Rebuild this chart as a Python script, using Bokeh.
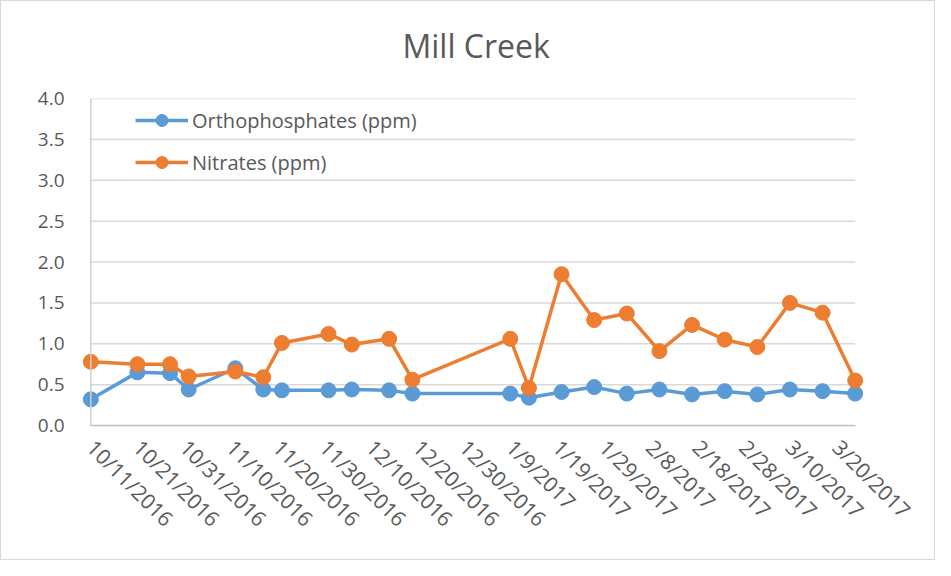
import math
from datetime import datetime, timedelta
from bokeh.plotting import figure
from bokeh.models import (FixedTicker, CustomJSTickFormatter, PrintfTickFormatter,
                          Legend, LegendItem, Range1d, Span, Title)
from bokeh.embed import file_html
from bokeh.resources import INLINE

title = "Mill Creek"
dates = ["2016-10-11", "2016-10-21", "2016-10-28", "2016-11-01", "2016-11-11",
         "2016-11-17", "2016-11-21", "2016-12-01", "2016-12-06", "2016-12-14",
         "2016-12-19", "2017-01-09", "2017-01-13", "2017-01-20", "2017-01-27",
         "2017-02-03", "2017-02-10", "2017-02-17", "2017-02-24", "2017-03-03",
         "2017-03-10", "2017-03-17", "2017-03-24"]
orthophosphates = [0.32, 0.65, 0.64, 0.44, 0.70, 0.44, 0.43, 0.43, 0.44, 0.43,
                   0.39, 0.39, 0.34, 0.41, 0.47, 0.39, 0.44, 0.38, 0.42, 0.38,
                   0.44, 0.42, 0.39]
nitrates = [0.78, 0.75, 0.75, 0.60, 0.66, 0.59, 1.01, 1.12, 0.99, 1.06,
            0.56, 1.06, 0.46, 1.85, 1.29, 1.37, 0.91, 1.23, 1.05, 0.96,
            1.50, 1.38, 0.55]
x_tick_labels = ["10/11/2016", "10/21/2016", "10/31/2016", "11/10/2016", "11/20/2016",
                 "11/30/2016", "12/10/2016", "12/20/2016", "12/30/2016", "1/9/2017",
                 "1/19/2017", "1/29/2017", "2/8/2017", "2/18/2017", "2/28/2017",
                 "3/10/2017", "3/20/2017"]
y_ticks = [0.0, 0.5, 1.0, 1.5, 2.0, 2.5, 3.0, 3.5, 4.0]
series_names = ["Orthophosphates (ppm)", "Nitrates (ppm)"]

BLUE = "#5b9bd5"
ORANGE = "#ed7d31"
TEXT = "#595959"
GRID = "#d9d9d9"
FONT = "Open Sans"

x = [datetime.strptime(d, "%Y-%m-%d") for d in dates]
xt = [datetime.strptime(t, "%m/%d/%Y") for t in x_tick_labels]
epoch = datetime(1970, 1, 1)
tick_ms = [(t - epoch).total_seconds() * 1000.0 for t in xt]
x_start, x_end = x[0], x[-1]
pad = timedelta(days=2)

p = figure(width=935, height=560, output_backend="svg", toolbar_location=None,
           x_axis_type="datetime",
           x_range=Range1d(x_start - pad, x_end + pad), y_range=Range1d(0, 4),
           min_border_left=80, min_border_right=72, min_border_top=97,
           min_border_bottom=136)
p.styles = {"border": "1px solid #d9d9d9"}
p.outline_line_color = None
p.title.text = ""
p.title.standoff = 0

# spacer panel next to the plot area, then the chart title above it
p.add_layout(Title(text=" ", text_font_size="10px", standoff=19), "above")
p.add_layout(Title(text=title, align="left", offset=321, standoff=0,
                   text_font=FONT, text_font_size="32px", text_font_style="normal",
                   text_color=TEXT), "above")

# horizontal grid lines limited to the date span of the axis
grid_y = [v for v in y_ticks if v > 0]
p.segment(x0=[x_start] * len(grid_y), x1=[x_end] * len(grid_y), y0=grid_y, y1=grid_y,
          line_color=GRID, line_width=1.5)

r1 = p.line(x, orthophosphates, line_color=BLUE, line_width=3.5)
s1 = p.scatter(x, orthophosphates, size=15, fill_color=BLUE, line_color=BLUE)
r2 = p.line(x, nitrates, line_color=ORANGE, line_width=3.5)
s2 = p.scatter(x, nitrates, size=15, fill_color=ORANGE, line_color=ORANGE)

p.yaxis.ticker = FixedTicker(ticks=y_ticks)
p.yaxis.formatter = PrintfTickFormatter(format="%.1f")
p.yaxis.major_tick_line_color = None
p.yaxis.minor_tick_line_color = None
p.yaxis.major_label_standoff = 11
p.yaxis.axis_line_color = None
p.yaxis.major_label_text_font = FONT
p.yaxis.major_label_text_font_size = "19px"
p.yaxis.major_label_text_color = TEXT
p.add_layout(Span(location=(x_start - epoch).total_seconds() * 1000.0,
                  dimension="height", line_color="#d0d0d0", line_width=1.5))

p.xaxis.ticker = FixedTicker(ticks=tick_ms)
p.xaxis.bounds = (x_start, x_end)
p.xaxis.formatter = CustomJSTickFormatter(code="""
const d = new Date(tick);
return (d.getUTCMonth() + 1) + '/' + d.getUTCDate() + '/' + d.getUTCFullYear();
""")
p.xaxis.major_label_orientation = -math.pi / 4
p.xaxis.major_tick_line_color = None
p.xaxis.minor_tick_line_color = None
p.xaxis.major_label_standoff = 12
p.xaxis.axis_line_color = "#bfbfbf"
p.xaxis.axis_line_width = 1.5
p.xaxis.major_label_text_font = FONT
p.xaxis.major_label_text_font_size = "21px"
p.xaxis.major_label_text_color = TEXT

p.xgrid.visible = False
p.ygrid.visible = False

legend = Legend(items=[LegendItem(label=series_names[0], renderers=[r1, s1]),
                       LegendItem(label=series_names[1], renderers=[r2, s2])],
                location=(54, 248))
legend.border_line_color = None
legend.background_fill_alpha = 0
legend.padding = 0
legend.margin = 0
legend.spacing = 12
legend.glyph_width = 53
legend.glyph_height = 30
legend.label_standoff = 4
legend.label_text_font = FONT
legend.label_text_font_size = "20px"
legend.label_text_color = TEXT
p.add_layout(legend)

open("out.html", "w").write(file_html(p, INLINE))
